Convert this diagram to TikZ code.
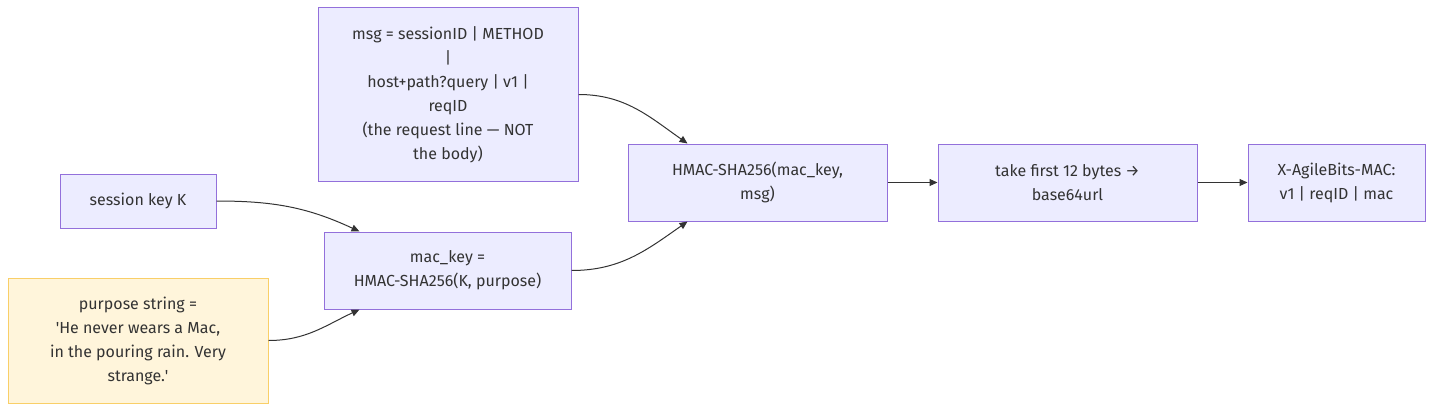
\documentclass[tikz,border=0pt]{standalone}
\usepackage{fontspec}
\setmainfont{Fira Sans}
\usetikzlibrary{arrows.meta}
\definecolor{boxfill}{HTML}{ECECFF}
\definecolor{boxline}{HTML}{9370DB}
\definecolor{notefill}{HTML}{FFF5DB}
\definecolor{noteline}{HTML}{F9CF68}
\definecolor{txt}{HTML}{333333}
\definecolor{edge}{HTML}{333333}
\tikzset{
  box/.style={draw=boxline, fill=boxfill, line width=1pt, align=center, inner sep=0pt,
    text=txt, font=\fontsize{16}{24}\selectfont},
  notebox/.style={box, draw=noteline, fill=notefill},
  conn/.style={draw=edge, line width=1pt, -{Triangle[length=8pt,width=7pt]}},
}
\begin{document}
\begin{tikzpicture}
\useasboundingbox (0,0) rectangle (1434pt,-412pt);
\node[box, minimum width=260pt, minimum height=173pt] (msg) at (448pt,-94.5pt)
  {msg = sessionID | METHOD\\|\\host+path?query | v1 |\\reqID\\(the request line — NOT\\the body)};
\node[box, minimum width=156pt, minimum height=54pt] (sk) at (138pt,-201pt) {session key K};
\node[notebox, minimum width=260pt, minimum height=125pt] (purp) at (138pt,-340.5pt)
  {purpose string =\\\textquotesingle He never wears a Mac,\\in the pouring rain. Very\\strange.\textquotesingle};
\node[box, minimum width=247pt, minimum height=77pt] (mk) at (447.5pt,-270.5pt)
  {mac\_key =\\HMAC-SHA256(K, purpose)};
\node[box, minimum width=259pt, minimum height=77pt] (hm) at (757.5pt,-182.5pt)
  {HMAC-SHA256(mac\_key,\\msg)};
\node[box, minimum width=259pt, minimum height=77pt] (tk) at (1067.5pt,-182.5pt)
  {take first 12 bytes →\\base64url};
\node[box, minimum width=177pt, minimum height=77pt] (xa) at (1336.5pt,-182.5pt)
  {X-AgileBits-MAC:\\v1 | reqID | mac};
\draw[conn] (msg.east) to[out=0,in=145] ([xshift=60pt]hm.north west);
\draw[conn] (sk.east) to[out=0,in=155] ([xshift=36pt]mk.north west);
\draw[conn] (purp.east) to[out=0,in=205] ([xshift=36pt]mk.south west);
\draw[conn] (mk.east) to[out=0,in=215] ([xshift=60pt]hm.south west);
\draw[conn] (hm.east) -- (tk.west);
\draw[conn] (tk.east) -- (xa.west);
\end{tikzpicture}
\end{document}
